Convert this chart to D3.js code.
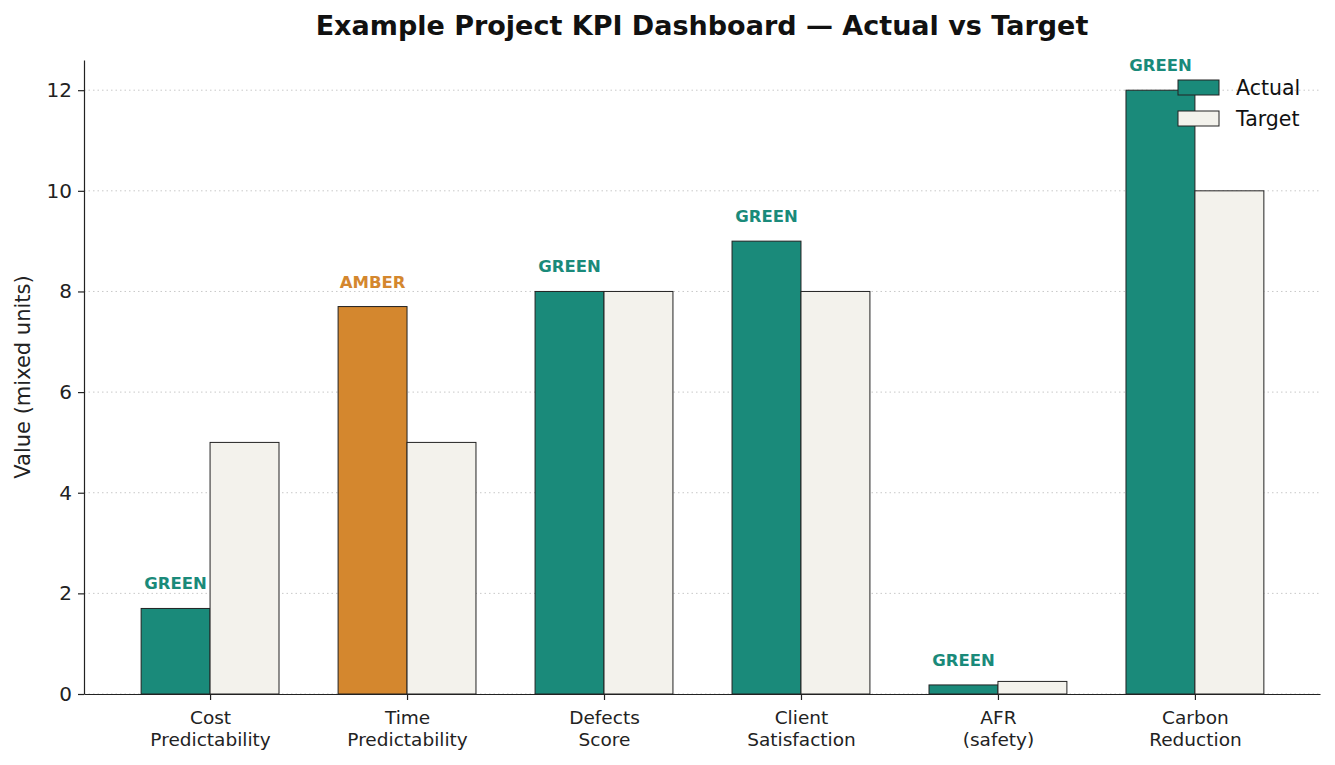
<!DOCTYPE html>
<html>
<head>
<meta charset="utf-8">
<script src="https://cdn.jsdelivr.net/npm/d3@7"></script>
<style>
  body { margin: 0; background: #fff; }
  svg { font-family: "DejaVu Sans", sans-serif; }
</style>
</head>
<body>
<div id="chart"></div>
<script>
// data
var categories = ["Cost\nPredictability", "Time\nPredictability", "Defects\nScore", "Client\nSatisfaction", "AFR\n(safety)", "Carbon\nReduction"];
var actual = [1.7, 7.7, 8, 9, 0.18, 12];
var target = [5, 5, 8, 8, 0.25, 10];
var kpiStatus = ["GREEN", "AMBER", "GREEN", "GREEN", "GREEN", "GREEN"];
var yTicks = [0, 2, 4, 6, 8, 10, 12];

var W = 1335, H = 765;
var margin = {top: 60, right: 15, bottom: 71, left: 84};
var statusColor = {GREEN: "#1a8a7a", AMBER: "#d4872e"};
var targetFill = "#f3f2ec";
var barW = 0.35;

var svg = d3.select("#chart").append("svg")
  .attr("width", W).attr("height", H);

var x = d3.scaleLinear().domain([-0.64, 5.635]).range([margin.left, W - margin.right]);
var y = d3.scaleLinear().domain([0, 12.6]).range([H - margin.bottom, margin.top]);

// grid
svg.append("g").selectAll("line").data(yTicks).enter().append("line")
  .attr("x1", margin.left).attr("x2", W - margin.right)
  .attr("y1", d => y(d)).attr("y2", d => y(d))
  .attr("stroke", "#c8c8c8").attr("stroke-width", 1)
  .attr("stroke-dasharray", "1.5,3");

// actual bars
svg.append("g").selectAll("rect").data(actual).enter().append("rect")
  .attr("x", (d, i) => x(i - barW))
  .attr("y", d => y(d))
  .attr("width", (d, i) => x(i) - x(i - barW))
  .attr("height", d => y(0) - y(d))
  .attr("fill", (d, i) => statusColor[kpiStatus[i]])
  .attr("stroke", "#222").attr("stroke-width", 1);

// target bars
svg.append("g").selectAll("rect").data(target).enter().append("rect")
  .attr("x", (d, i) => x(i))
  .attr("y", d => y(d))
  .attr("width", (d, i) => x(i + barW) - x(i))
  .attr("height", d => y(0) - y(d))
  .attr("fill", targetFill)
  .attr("stroke", "#222").attr("stroke-width", 1);

// status labels
svg.append("g").selectAll("text").data(actual).enter().append("text")
  .attr("x", (d, i) => x(i - barW / 2))
  .attr("y", d => y(d) - 19)
  .attr("text-anchor", "middle")
  .attr("font-size", 16.5).attr("font-weight", "bold")
  .attr("fill", (d, i) => statusColor[kpiStatus[i]])
  .text((d, i) => kpiStatus[i]);

// y axis
var yAxis = svg.append("g")
  .attr("transform", `translate(${margin.left},0)`)
  .call(d3.axisLeft(y).tickValues(yTicks).tickSize(6).tickPadding(6).tickSizeOuter(0));
yAxis.select(".domain").attr("stroke", "#222").attr("stroke-width", 1.2);
yAxis.selectAll(".tick line").attr("stroke", "#222").attr("stroke-width", 1.2);
yAxis.selectAll("text").attr("font-size", 20).attr("fill", "#222")
  .attr("font-family", "DejaVu Sans, sans-serif");

// x axis
var xAxis = svg.append("g")
  .attr("transform", `translate(0,${y(0)})`)
  .call(d3.axisBottom(x).tickValues(d3.range(categories.length)).tickSize(6).tickSizeOuter(0).tickFormat(""));
xAxis.select(".domain").attr("stroke", "#222").attr("stroke-width", 1.2);
xAxis.selectAll(".tick line").attr("stroke", "#222").attr("stroke-width", 1.2);
xAxis.selectAll(".tick").each(function(d) {
  var t = d3.select(this).append("text")
    .attr("text-anchor", "middle").attr("fill", "#222")
    .attr("font-size", 18.5).attr("font-family", "DejaVu Sans, sans-serif");
  categories[d].split("\n").forEach(function(line, k) {
    t.append("tspan").attr("x", 0).attr("y", 30 + k * 21.5).text(line);
  });
});

// y label
svg.append("text")
  .attr("transform", `translate(30,${(margin.top + y(0)) / 2}) rotate(-90)`)
  .attr("text-anchor", "middle")
  .attr("font-size", 21).attr("fill", "#222")
  .text("Value (mixed units)");

// title
svg.append("text")
  .attr("x", (margin.left + W - margin.right) / 2).attr("y", 35)
  .attr("text-anchor", "middle")
  .attr("font-size", 27).attr("font-weight", "bold").attr("fill", "#111")
  .text("Example Project KPI Dashboard — Actual vs Target");

// legend
var legend = svg.append("g").attr("transform", "translate(1178,80)");
var legendItems = [{label: "Actual", fill: statusColor.GREEN}, {label: "Target", fill: targetFill}];
legendItems.forEach(function(it, k) {
  legend.append("rect").attr("x", 0).attr("y", k * 31).attr("width", 41).attr("height", 15)
    .attr("fill", it.fill).attr("stroke", "#222").attr("stroke-width", 1);
  legend.append("text").attr("x", 58).attr("y", k * 31 + 15)
    .attr("font-size", 20.5).attr("fill", "#111").text(it.label);
});
</script>
</body>
</html>
